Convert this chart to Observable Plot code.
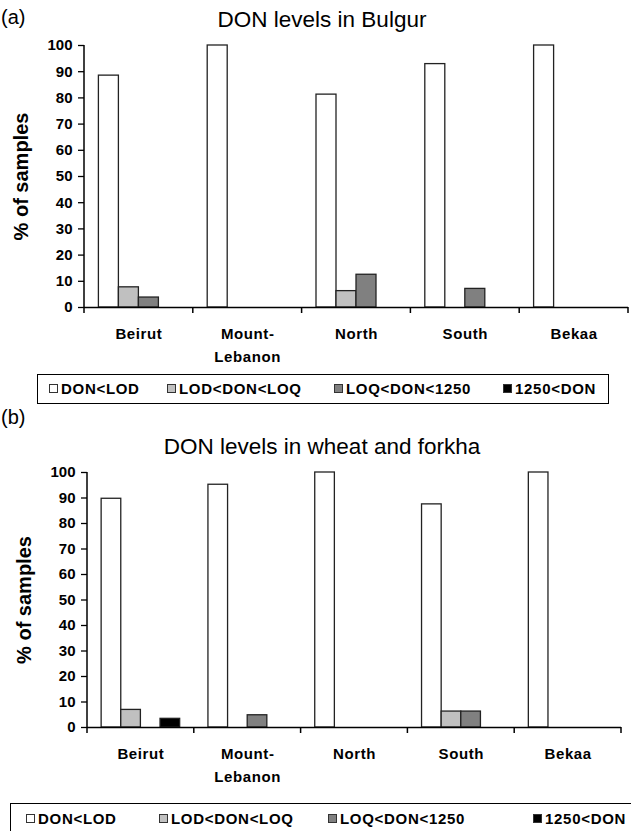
<!DOCTYPE html>
<html><head><meta charset="utf-8">
<script src="https://cdn.jsdelivr.net/npm/d3@7"></script>
<script src="https://cdn.jsdelivr.net/npm/@observablehq/plot@0.6"></script>
<style>
body{margin:0;background:#fff;font-family:"Liberation Sans",Arial,sans-serif;color:#000;}
#page{position:relative;width:631px;height:831px;overflow:hidden;background:#fff;}
.tag{position:absolute;left:1px;font-size:20px;}
.title{position:absolute;left:0;width:644px;text-align:center;font-size:22.5px;}
.holder{position:absolute;left:0;}
.legend{position:absolute;border:1.5px solid #000;box-sizing:border-box;background:#fff;}
.item{position:absolute;display:flex;align-items:center;font-weight:bold;font-size:15px;letter-spacing:0.7px;white-space:nowrap;}
.sw{display:inline-block;width:9px;height:9px;border:1px solid #333;margin-right:3px;box-sizing:border-box;}
g[aria-label="y-axis label"] text{font-size:20px;font-family:"Liberation Sans",Arial,sans-serif;font-weight:bold;}
g[aria-label="fx-axis tick label"] text{letter-spacing:0.6px;}
</style>
</head><body>
<div id="page"></div>
<script>
const regions = ["Beirut", "Mount-Lebanon", "North", "South", "Bekaa"];
const regionLabels = ["Beirut", "Mount-\nLebanon", "North", "South", "Bekaa"];
const series = ["DON<LOD", "LOD<DON<LOQ", "LOQ<DON<1250", "1250<DON"];
const seriesColors = ["#ffffff", "#c0c0c0", "#808080", "#000000"];
const yTicks = [0, 10, 20, 30, 40, 50, 60, 70, 80, 90, 100];

// (a) Bulgur: one array per series, in region order
const bulgurBelowLOD = [88.5, 100, 81.25, 92.9, 100];
const bulgurLODtoLOQ = [7.7, 0, 6.25, 0, 0];
const bulgurLOQto1250 = [3.8, 0, 12.5, 7.1, 0];
const bulgurAbove1250 = [0, 0, 0, 0, 0];

// (b) Wheat and forkha
const wheatBelowLOD = [89.7, 95.2, 100, 87.5, 100];
const wheatLODtoLOQ = [6.9, 0, 0, 6.25, 0];
const wheatLOQto1250 = [0, 4.8, 0, 6.25, 0];
const wheatAbove1250 = [3.4, 0, 0, 0, 0];

const page = document.getElementById("page");

function table(valueSets) {
  const rows = [];
  regions.forEach((r, i) => series.forEach((s, j) => rows.push({region: r, series: s, value: valueSets[j][i]})));
  return rows;
}

function chart(valueSets, opts) {
  const data = table(valueSets);
  const p = Plot.plot({
    width: 631,
    height: opts.height,
    marginLeft: opts.marginLeft,
    marginRight: opts.marginRight,
    marginTop: 10,
    marginBottom: opts.marginBottom,
    style: {fontFamily: "'Liberation Sans', Arial, sans-serif", fontSize: "15px", fontWeight: "bold", background: "transparent", color: "#000", overflow: "visible"},
    fx: {domain: regions, padding: 0, round: false, axis: null},
    x: {domain: series, paddingInner: 0, paddingOuter: 0.72, round: false, axis: null},
    y: {domain: [0, 100], axis: null},
    color: {domain: series, range: seriesColors},
    marks: [
      Plot.barY(data, {filter: d => d.value > 0, fx: "region", x: "series", y: "value", fill: "series", stroke: "#222", strokeWidth: 1.3}),
      Plot.ruleY([0], {stroke: "#000", strokeWidth: 1.5}),
      Plot.axisY({ticks: yTicks, tickSize: 6, tickPadding: 6, tickFormat: d => String(d), fontFamily: "'Liberation Sans Narrow','Arial Narrow','Liberation Sans',sans-serif", fontSize: 15, label: "% of samples", labelArrow: "none", labelAnchor: "center", labelOffset: 71, stroke: "#000", strokeWidth: 1.3}),
      Plot.axisFx({anchor: "bottom", tickSize: 0, tickPadding: 16, lineHeight: 1.5, tickFormat: d => regionLabels[regions.indexOf(d)], label: null, fontSize: 15, fontWeight: "bold"})
    ]
  });
  // axis line and category-boundary ticks drawn from Plot's own scales
  const fx = p.scale("fx"), y = p.scale("y");
  const bounds = regions.map(r => fx.apply(r)).concat([fx.apply(regions[regions.length - 1]) + fx.bandwidth]);
  const g = d3.select(p).append("g").attr("stroke", "#000").attr("stroke-width", 1.5);
  g.append("line").attr("x1", bounds[0]).attr("x2", bounds[0]).attr("y1", y.apply(0)).attr("y2", y.apply(100));
  bounds.forEach(b => g.append("line").attr("x1", b).attr("x2", b).attr("y1", y.apply(0)).attr("y2", y.apply(0) + 6));
  return p;
}

function add(html, cls, style) {
  const d = document.createElement("div");
  d.className = cls; d.innerHTML = html; Object.assign(d.style, style);
  page.appendChild(d); return d;
}

function legend(style, lefts, textTop) {
  const box = add("", "legend", style);
  series.forEach((s, i) => {
    const it = document.createElement("div");
    it.className = "item";
    it.style.left = lefts[i] + "px";
    it.style.top = textTop + "px";
    const sw = document.createElement("span");
    sw.className = "sw"; sw.style.background = seriesColors[i];
    it.appendChild(sw);
    it.appendChild(document.createTextNode(s));
    box.appendChild(it);
  });
}

// Panel (a)
add("(a)", "tag", {top: "6px"});
add("DON levels in Bulgur", "title", {top: "7px"});
const hA = add("", "holder", {top: "35px"});
hA.appendChild(chart([bulgurBelowLOD, bulgurLODtoLOQ, bulgurLOQto1250, bulgurAbove1250], {height: 335, marginLeft: 84, marginRight: 3, marginBottom: 63}));
legend({left: "37px", top: "374px", width: "572px", height: "30px"}, [11, 129, 296, 465], 5);

// Panel (b)
add("(b)", "tag", {top: "406px"});
add("DON levels in wheat and forkha", "title", {top: "434px"});
const hB = add("", "holder", {top: "462px"});
hB.appendChild(chart([wheatBelowLOD, wheatLODtoLOQ, wheatLOQto1250, wheatAbove1250], {height: 338, marginLeft: 87, marginRight: 10, marginBottom: 73}));
legend({left: "10px", top: "803px", width: "640px", height: "34px"}, [15, 148, 317, 522], 6);
</script>
</body></html>
